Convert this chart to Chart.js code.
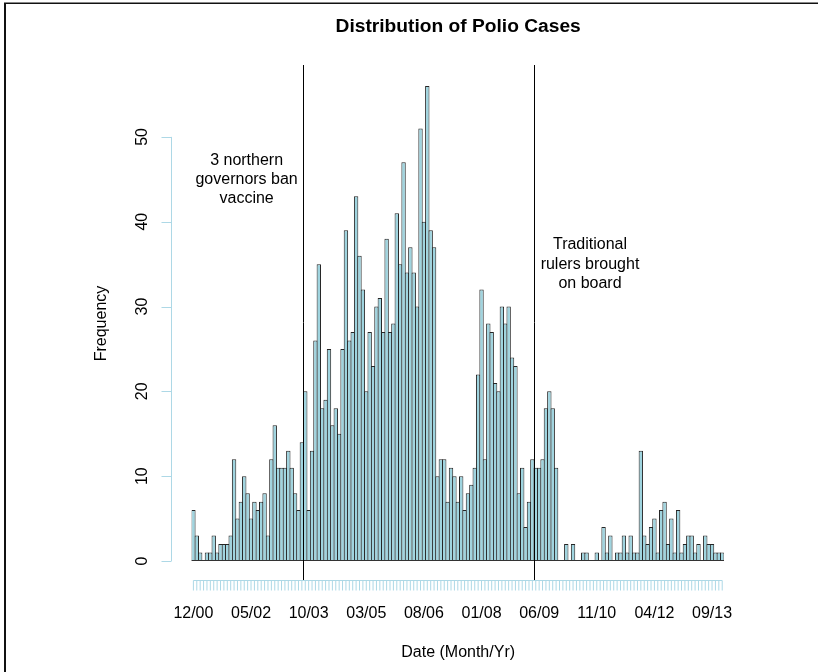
<!DOCTYPE html>
<html>
<head>
<meta charset="utf-8">
<title>Distribution of Polio Cases</title>
<script src="https://cdn.jsdelivr.net/npm/chart.js@4.4.1/dist/chart.umd.min.js"></script>
<style>
  html, body { margin: 0; padding: 0; background: #ffffff; }
  canvas { display: block; }
</style>
</head>
<body>
<canvas id="polio" width="818" height="672"></canvas>
<script>
// Monthly polio case counts, starting December 2000
const cases = [
  6, 3, 1, 0, 1, 1, 3, 1, 2, 2, 2, 3,
  12, 5, 7, 10, 8, 5, 7, 6, 7, 8, 3, 12,
  16, 11, 11, 11, 13, 11, 8, 6, 14, 20, 6, 13,
  26, 35, 18, 19, 25, 16, 18, 15, 25, 39, 26, 27,
  43, 36, 32, 20, 27, 23, 30, 31, 27, 38, 27, 28,
  41, 35, 47, 34, 37, 34, 30, 51, 40, 56, 39, 37,
  10, 12, 12, 7, 11, 10, 7, 10, 6, 8, 9, 11,
  22, 32, 12, 28, 27, 21, 20, 30, 28, 30, 24, 23,
  8, 11, 4, 7, 12, 11, 11, 12, 18, 20, 18, 11,
  0, 0, 2, 0, 2, 0, 0, 1, 1, 0, 0, 1,
  0, 4, 1, 3, 0, 1, 1, 3, 1, 3, 1, 1,
  13, 3, 2, 4, 5, 1, 6, 7, 2, 5, 1, 6,
  1, 2, 3, 3, 1, 2, 0, 3, 2, 2, 1, 1, 1
];

// Month/year category for each bar
const startYear = 2000;
const startMonth = 12;
const months = cases.map((_, i) => {
  const k = startMonth - 1 + i;
  const m = (k % 12) + 1;
  const yr = (startYear + Math.floor(k / 12)) % 100;
  return String(m).padStart(2, '0') + '/' + String(yr).padStart(2, '0');
});

// Labelled months on the date axis
const tickLabels = ['12/00', '05/02', '10/03', '03/05', '08/06', '01/08', '06/09', '11/10', '04/12', '09/13'];
const yTicks = [0, 10, 20, 30, 40, 50];

// Policy events: a vertical rule is drawn before the given month
const eventMonths = ['09/03', '05/09'];
const eventNotes = [
  ['3 northern', 'governors ban', 'vaccine'],
  ['Traditional', 'rulers brought', 'on board']
];

// Where each note is centred (category index, frequency)
const notePlacement = [
  { x: 15.7, y: 45 },
  { x: 117, y: 35 }
];

const FONT = "'Liberation Sans', Arial, Helvetica, sans-serif";
const AXIS_BLUE = '#ADD8E6';

const baseStyle = {
  id: 'baseStyle',
  beforeDraw(chart) {
    const ctx = chart.ctx;
    ctx.save();
    ctx.fillStyle = '#ffffff';
    ctx.fillRect(0, 0, chart.width, chart.height);
    ctx.restore();
  },
  afterDatasetsDraw(chart) {
    const { ctx, chartArea: area, scales: { x, y } } = chart;
    ctx.save();

    // zero line under the bars
    const y0 = y.getPixelForValue(0);
    ctx.strokeStyle = '#333333';
    ctx.lineWidth = 1;
    ctx.beginPath();
    ctx.moveTo(x.getPixelForValue(-0.5), Math.round(y0) - 0.5);
    ctx.lineTo(x.getPixelForValue(cases.length - 0.5), Math.round(y0) - 0.5);
    ctx.stroke();

    // event rules
    ctx.strokeStyle = '#000000';
    eventMonths.forEach(m => {
      const px = Math.floor(x.getPixelForValue(months.indexOf(m) - 0.5)) + 0.5;
      ctx.beginPath();
      ctx.moveTo(px, area.top - 2);
      ctx.lineTo(px, area.bottom);
      ctx.stroke();
    });

    // notes
    ctx.fillStyle = '#000000';
    ctx.font = '16px ' + FONT;
    ctx.textAlign = 'center';
    ctx.textBaseline = 'middle';
    eventNotes.forEach((lines, k) => {
      const cx = x.getPixelForValue(notePlacement[k].x);
      const cy = y.getPixelForValue(notePlacement[k].y);
      const lh = 19.2;
      lines.forEach((t, j) => {
        ctx.fillText(t, cx, cy + (j - (lines.length - 1) / 2) * lh);
      });
    });

    // date axis: a tick under every month, labels on selected months
    const axisY = area.bottom + 0.5;
    ctx.strokeStyle = AXIS_BLUE;
    ctx.lineWidth = 1;
    ctx.beginPath();
    ctx.moveTo(x.getPixelForValue(0), axisY);
    ctx.lineTo(x.getPixelForValue(cases.length - 1), axisY);
    for (let i = 0; i < cases.length; i++) {
      const px = x.getPixelForValue(i);
      ctx.moveTo(px, axisY);
      ctx.lineTo(px, axisY + 10);
    }
    ctx.stroke();

    ctx.fillStyle = '#000000';
    ctx.font = '16px ' + FONT;
    ctx.textAlign = 'center';
    ctx.textBaseline = 'alphabetic';
    tickLabels.forEach(lbl => {
      ctx.fillText(lbl, x.getPixelForValue(months.indexOf(lbl)), 618);
    });

    // frequency axis, set off to the left of the bars
    const axisX = Math.round(x.getPixelForValue(-6.6)) + 0.5;
    ctx.strokeStyle = AXIS_BLUE;
    ctx.beginPath();
    ctx.moveTo(axisX, y.getPixelForValue(yTicks[0]));
    ctx.lineTo(axisX, y.getPixelForValue(yTicks[yTicks.length - 1]));
    yTicks.forEach(v => {
      const py = Math.round(y.getPixelForValue(v)) + 0.5;
      ctx.moveTo(axisX, py);
      ctx.lineTo(axisX - 10, py);
    });
    ctx.stroke();

    ctx.fillStyle = '#000000';
    yTicks.forEach(v => {
      ctx.save();
      ctx.translate(147, y.getPixelForValue(v));
      ctx.rotate(-Math.PI / 2);
      ctx.textAlign = 'center';
      ctx.textBaseline = 'alphabetic';
      ctx.fillText(String(v), 0, 0);
      ctx.restore();
    });

    // axis titles
    ctx.save();
    ctx.translate(106, (area.top + area.bottom) / 2);
    ctx.rotate(-Math.PI / 2);
    ctx.textAlign = 'center';
    ctx.textBaseline = 'alphabetic';
    ctx.fillText('Frequency', 0, 0);
    ctx.restore();

    const plotCentre = (x.getPixelForValue(-6.6) + x.getPixelForValue(cases.length + 5.8)) / 2;
    ctx.textAlign = 'center';
    ctx.fillText('Date (Month/Yr)', plotCentre, 656.5);

    // main title
    ctx.font = 'bold 19.2px ' + FONT;
    ctx.fillText('Distribution of Polio Cases', plotCentre, 31.5);

    // frame on the top and left edges
    ctx.strokeStyle = '#111111';
    ctx.lineWidth = 1.5;
    ctx.beginPath();
    ctx.moveTo(4, 3.3);
    ctx.lineTo(chart.width, 3.3);
    ctx.stroke();
    ctx.lineWidth = 2;
    ctx.beginPath();
    ctx.moveTo(5, 3);
    ctx.lineTo(5, chart.height);
    ctx.stroke();

    ctx.restore();
  }
};

new Chart(document.getElementById('polio'), {
  type: 'bar',
  data: {
    labels: months,
    datasets: [{
      label: 'Cases',
      data: cases,
      backgroundColor: '#9FD4DF',
      borderColor: '#262626',
      borderWidth: 1,
      borderSkipped: false,
      barPercentage: 1.295,
      categoryPercentage: 1
    }]
  },
  options: {
    responsive: false,
    animation: false,
    devicePixelRatio: 1,
    layout: { padding: { left: 191.7, right: 94.1, top: 67, bottom: 92 } },
    plugins: {
      legend: { display: false },
      title: { display: false },
      tooltip: { enabled: false }
    },
    scales: {
      x: { display: false, offset: true },
      y: { display: false, min: -2.24, max: 58.24 }
    }
  },
  plugins: [baseStyle]
});
</script>
</body>
</html>
